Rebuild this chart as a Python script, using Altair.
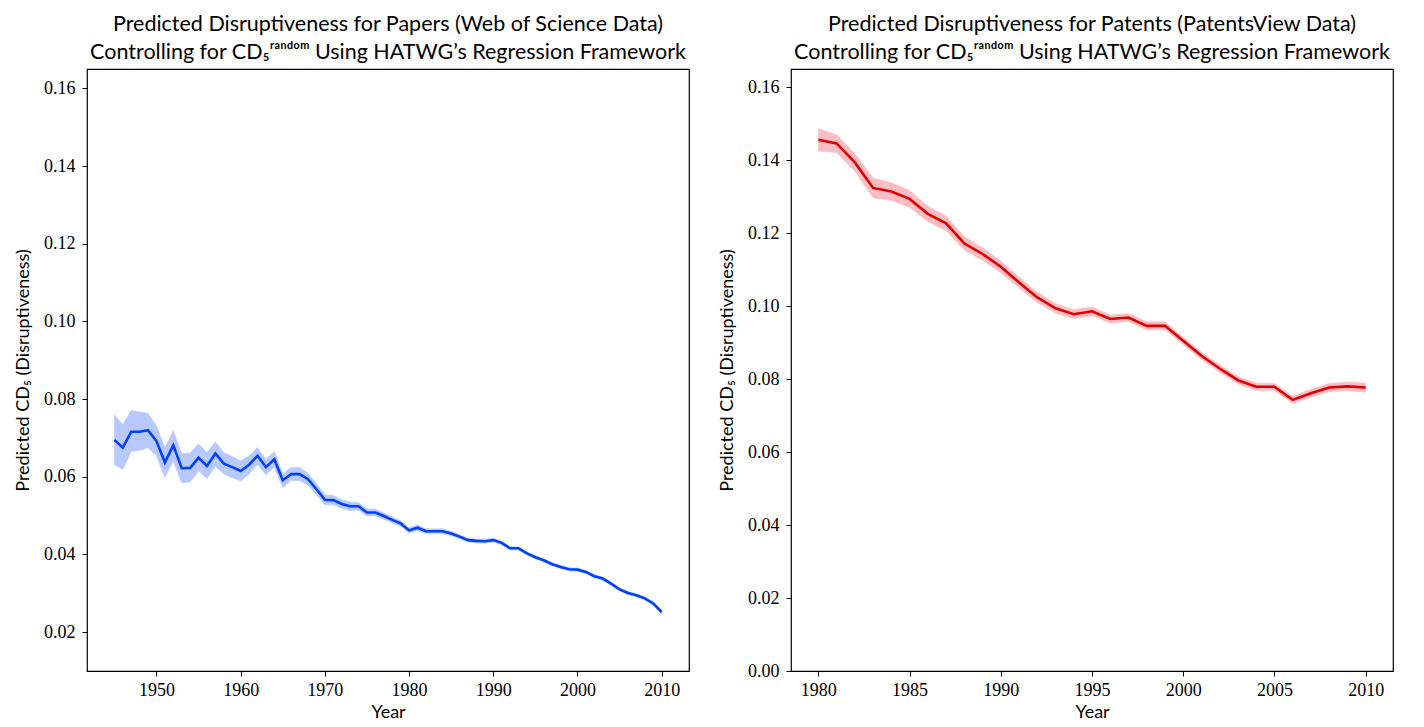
import altair as alt
import pandas as pd

# ---------------- data ----------------
paper_years = list(range(1945, 2011))
paper_cd = [0.0695, 0.0675, 0.0716, 0.0716, 0.0720, 0.0692, 0.0637, 0.0681, 0.0622, 0.0623,
            0.0649, 0.0628, 0.0660, 0.0634, 0.0625, 0.0615, 0.0631, 0.0654, 0.0625, 0.0645,
            0.0591, 0.0607, 0.0607, 0.0594, 0.0568, 0.0541, 0.0540, 0.0530, 0.0524, 0.0524,
            0.0508, 0.0508, 0.0499, 0.0489, 0.0480, 0.0462, 0.0469, 0.0460, 0.0460, 0.0460,
            0.0454, 0.0446, 0.0437, 0.0435, 0.0434, 0.0437, 0.0430, 0.0416, 0.0416, 0.0403,
            0.0393, 0.0385, 0.0375, 0.0368, 0.0362, 0.0361, 0.0355, 0.0344, 0.0338, 0.0325,
            0.0310, 0.0301, 0.0295, 0.0287, 0.0274, 0.0252]
paper_lo = [0.0632, 0.0619, 0.0665, 0.0668, 0.0675, 0.0654, 0.0598, 0.0641, 0.0585, 0.0587,
            0.0615, 0.0595, 0.0627, 0.0607, 0.0598, 0.0589, 0.0607, 0.0632, 0.0605, 0.0625,
            0.0572, 0.0591, 0.0590, 0.0579, 0.0554, 0.0528, 0.0528, 0.0519, 0.0513, 0.0514,
            0.0499, 0.0499, 0.0491, 0.0481, 0.0473, 0.0455, 0.0462, 0.0454, 0.0454, 0.0454,
            0.0448, 0.0441, 0.0432, 0.0430, 0.0429, 0.0432, 0.0425, 0.0412, 0.0412, 0.0399,
            0.0389, 0.0381, 0.0371, 0.0364, 0.0358, 0.0357, 0.0351, 0.0340, 0.0334, 0.0321,
            0.0306, 0.0297, 0.0291, 0.0283, 0.0270, 0.0248]
paper_hi = [0.0759, 0.0734, 0.0771, 0.0767, 0.0763, 0.0731, 0.0675, 0.0718, 0.0660, 0.0661,
            0.0685, 0.0662, 0.0690, 0.0662, 0.0652, 0.0641, 0.0654, 0.0675, 0.0645, 0.0665,
            0.0608, 0.0624, 0.0624, 0.0609, 0.0582, 0.0554, 0.0552, 0.0541, 0.0535, 0.0534,
            0.0517, 0.0517, 0.0507, 0.0497, 0.0487, 0.0469, 0.0476, 0.0466, 0.0466, 0.0466,
            0.0460, 0.0451, 0.0442, 0.0440, 0.0439, 0.0442, 0.0435, 0.0420, 0.0420, 0.0407,
            0.0397, 0.0389, 0.0379, 0.0372, 0.0366, 0.0365, 0.0359, 0.0348, 0.0342, 0.0329,
            0.0314, 0.0305, 0.0299, 0.0291, 0.0278, 0.0256]

patent_years = list(range(1980, 2011))
patent_cd = [0.1456, 0.1446, 0.1394, 0.1324, 0.1314, 0.1294, 0.1253, 0.1227, 0.1172, 0.1143,
             0.1108, 0.1065, 0.1024, 0.0994, 0.0978, 0.0986, 0.0965, 0.0969, 0.0946, 0.0946,
             0.0905, 0.0864, 0.0829, 0.0797, 0.0779, 0.0779, 0.0743, 0.0761, 0.0777, 0.0780,
             0.0777]
patent_lo = [0.1425, 0.1421, 0.1370, 0.1297, 0.1290, 0.1271, 0.1232, 0.1207, 0.1154, 0.1126,
             0.1092, 0.1050, 0.1010, 0.0981, 0.0966, 0.0974, 0.0954, 0.0958, 0.0935, 0.0935,
             0.0895, 0.0854, 0.0819, 0.0787, 0.0769, 0.0769, 0.0733, 0.0750, 0.0766, 0.0768,
             0.0765]
patent_hi = [0.1486, 0.1470, 0.1418, 0.1351, 0.1338, 0.1317, 0.1274, 0.1247, 0.1190, 0.1160,
             0.1124, 0.1080, 0.1038, 0.1007, 0.0990, 0.0998, 0.0976, 0.0980, 0.0957, 0.0957,
             0.0915, 0.0874, 0.0839, 0.0807, 0.0789, 0.0789, 0.0753, 0.0772, 0.0788, 0.0792,
             0.0789]

paper_xticks = [1950, 1960, 1970, 1980, 1990, 2000, 2010]
paper_yticks = [0.02, 0.04, 0.06, 0.08, 0.10, 0.12, 0.14, 0.16]
patent_xticks = [1980, 1985, 1990, 1995, 2000, 2005, 2010]
patent_yticks = [0.00, 0.02, 0.04, 0.06, 0.08, 0.10, 0.12, 0.14, 0.16]

title_papers = ["Predicted Disruptiveness for Papers (Web of Science Data)",
                "Controlling for CD\u2085\u02b3\u1d43\u207f\u1d48\u1d52\u1d50  Using HATWG\u2019s Regression Framework"]
title_patents = ["Predicted Disruptiveness for Patents (PatentsView Data)",
                 "Controlling for CD\u2085\u02b3\u1d43\u207f\u1d48\u1d52\u1d50  Using HATWG\u2019s Regression Framework"]
y_title = "Predicted CD\u2085 (Disruptiveness)"

SANS = "Lato"
SERIF = "Liberation Serif"
W = 602
H = 602


def panel(years, cd, lo, hi, xdom, ydom, xticks, yticks, line_col, band_col, title):
    df = pd.DataFrame({"Year": years, "cd": cd, "lo": lo, "hi": hi})
    x = alt.X("Year:Q", scale=alt.Scale(domain=xdom, nice=False, zero=False),
              axis=alt.Axis(values=xticks, format="d", title="Year"))
    yax = alt.Axis(values=yticks, format=".2f", title=y_title)
    band = alt.Chart(df).mark_area(color=band_col, opacity=0.35, stroke=band_col,
                                   strokeWidth=1, strokeOpacity=0.6).encode(
        x=x,
        y=alt.Y("lo:Q", scale=alt.Scale(domain=ydom, nice=False, zero=False), axis=yax),
        y2="hi:Q",
    )
    line = alt.Chart(df).mark_line(color=line_col, strokeWidth=2.6).encode(
        x=x,
        y=alt.Y("cd:Q", scale=alt.Scale(domain=ydom, nice=False, zero=False), axis=yax),
    )
    return alt.layer(band, line).properties(
        width=W, height=H,
        title=alt.TitleParams(text=title, fontSize=21.5, font=SANS, fontWeight="normal",
                              anchor="middle", lineHeight=28, offset=6, color="black"),
    )


left = panel(paper_years, paper_cd, paper_lo, paper_hi, [1941.75, 2013.25], [0.01, 0.165],
             paper_xticks, paper_yticks, "#0040ff", "#3366ff", title_papers)
right = panel(patent_years, patent_cd, patent_lo, patent_hi, [1978.5, 2011.5], [0.0, 0.165],
              patent_xticks, patent_yticks, "#e00000", "#ee4455", title_patents)

chart = alt.hconcat(left, right, spacing=102, bounds="flush").properties(
    padding={"left": 5, "top": 4, "right": 4, "bottom": 0}
).configure_view(
    stroke="black", strokeWidth=1.2
).configure_axis(
    domain=False, grid=False, tickColor="black", tickSize=5, tickWidth=1,
    labelFont=SERIF, labelFontSize=18, labelColor="black", labelPadding=7,
    titleFont=SANS, titleFontSize=18, titleFontWeight="normal", titleColor="black",
).configure_axisY(titlePadding=11).configure_axisX(titlePadding=4, labelPadding=5)

chart.save("out.html", embed_options={"renderer": "svg", "actions": False})
